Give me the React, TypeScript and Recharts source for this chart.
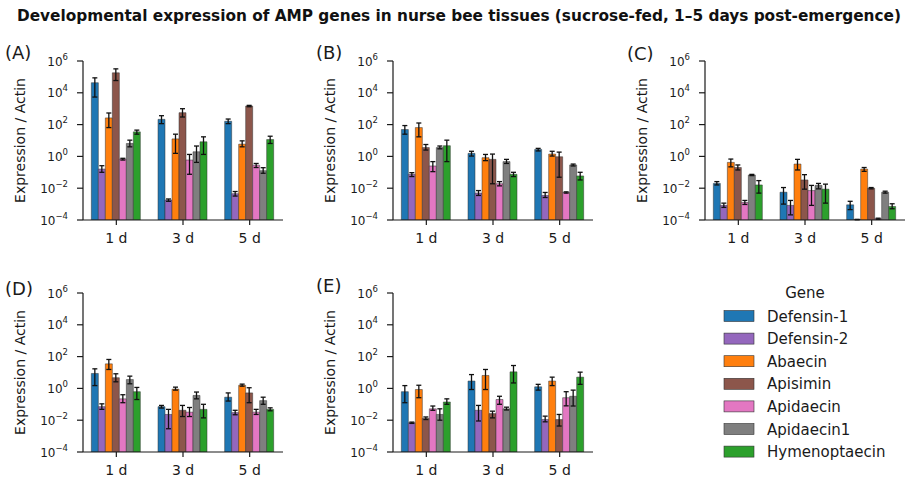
import React from 'react'
import { BarChart, Bar, XAxis, YAxis, ErrorBar, Label } from 'recharts'

const DAYS = ['1 d', '3 d', '5 d']
const GENES = ['Defensin-1', 'Defensin-2', 'Abaecin', 'Apisimin', 'Apidaecin', 'Apidaecin1', 'Hymenoptaecin']
const COLORS = ['#1f77b4', '#9467bd', '#ff7f0e', '#8c564b', '#e377c2', '#7f7f7f', '#2ca02c']
const Y_TICKS = [1e-4, 1e-2, 1, 1e2, 1e4, 1e6]

// rows = genes (order of GENES), columns = days; mean, lower and upper end of error bar
const meanA = [
  [4.3e4, 214, 162],
  [0.16, 1.8e-3, 4.5e-3],
  [263, 12.6, 5.9],
  [1.8e5, 560, 1480],
  [0.68, 0.59, 0.28],
  [6.5, 1.95, 0.126],
  [35, 8.3, 11.5],
]
const lowA = [
  [5.4e3, 115, 115],
  [0.1, 1.5e-3, 3.2e-3],
  [65, 1.55, 4.0],
  [5.9e4, 300, 1330],
  [0.59, 0.075, 0.2],
  [4.0, 0.42, 0.087],
  [25, 1.33, 6.5],
]
const highA = [
  [8.7e4, 363, 224],
  [0.26, 2.1e-3, 6.2e-3],
  [537, 25, 9.5],
  [3.2e5, 1000, 1620],
  [0.76, 1.33, 0.36],
  [10.5, 4.5, 0.195],
  [45, 17, 18.6],
]

const meanB = [
  [49, 1.55, 2.75],
  [0.075, 4.9e-3, 3.5e-3],
  [65, 0.83, 1.4],
  [3.6, 0.65, 0.95],
  [0.25, 0.019, 5.4e-3],
  [3.6, 0.47, 0.29],
  [4.7, 0.075, 0.059],
]
const lowB = [
  [25, 1.05, 2.2],
  [0.054, 3.5e-3, 2.6e-3],
  [17, 0.54, 1.05],
  [2.5, 0.019, 0.049],
  [0.11, 0.014, 4.9e-3],
  [3.0, 0.36, 0.25],
  [0.47, 0.054, 0.033],
]
const highB = [
  [87, 2.1, 3.2],
  [0.095, 7.1e-3, 5.4e-3],
  [126, 1.33, 2.1],
  [5.6, 1.4, 1.86],
  [0.47, 0.026, 5.9e-3],
  [4.5, 0.65, 0.33],
  [10.5, 0.1, 0.1],
]

const meanC = [
  [0.02, 5.6e-3, 9e-4],
  [8.3e-4, 8.3e-4, 1.07e-4],
  [0.42, 0.33, 0.16],
  [0.2, 0.033, 0.01],
  [1.26e-3, 7.1e-3, 1.2e-4],
  [0.068, 0.015, 5.6e-3],
  [0.016, 8.7e-3, 7.1e-4],
]
const lowC = [
  [0.016, 1e-3, 4.5e-4],
  [6.2e-4, 2.1e-4, 1.03e-4],
  [0.22, 0.14, 0.115],
  [0.14, 8.7e-3, 9.1e-3],
  [9.5e-4, 8.3e-4, 1.1e-4],
  [0.062, 9.1e-3, 4.9e-3],
  [4.9e-3, 1.15e-3, 5.1e-4],
]
const highC = [
  [0.026, 0.011, 1.5e-3],
  [1.15e-3, 1.7e-3, 1.1e-4],
  [0.68, 0.65, 0.2],
  [0.29, 0.071, 0.011],
  [1.7e-3, 0.015, 1.3e-4],
  [0.074, 0.02, 6.5e-3],
  [0.03, 0.018, 1.05e-3],
]

const meanD = [
  [8.7, 0.071, 0.28],
  [0.071, 0.023, 0.03],
  [35, 0.9, 1.58],
  [4.7, 0.042, 0.52],
  [0.22, 0.032, 0.032],
  [3.6, 0.36, 0.17],
  [0.62, 0.048, 0.048],
]
const lowD = [
  [1.5, 0.058, 0.16],
  [0.048, 2.9e-3, 0.022],
  [15.5, 0.78, 1.38],
  [2.6, 0.017, 0.126],
  [0.126, 0.017, 0.023],
  [1.95, 0.22, 0.1],
  [0.2, 0.014, 0.039],
]
const highD = [
  [17, 0.085, 0.52],
  [0.107, 0.048, 0.042],
  [66, 1.2, 1.86],
  [8.3, 0.085, 1.1],
  [0.4, 0.063, 0.048],
  [5.9, 0.59, 0.28],
  [1.15, 0.1, 0.06],
]

const meanE = [
  [0.62, 2.9, 1.26],
  [6.9e-3, 0.042, 0.011],
  [0.85, 6.5, 2.9],
  [0.013, 0.026, 0.011],
  [0.052, 0.2, 0.26],
  [0.023, 0.052, 0.32],
  [0.14, 11, 5.1],
]
const lowE = [
  [0.126, 0.85, 0.78],
  [6.3e-3, 8.9e-3, 7.9e-3],
  [0.26, 0.85, 1.5],
  [0.011, 0.014, 4.3e-3],
  [0.042, 0.1, 0.08],
  [0.01, 0.044, 0.078],
  [0.1, 2.2, 1.8],
]
const highE = [
  [1.5, 7.4, 1.8],
  [7.6e-3, 0.085, 0.018],
  [1.58, 15.5, 5.1],
  [0.016, 0.037, 0.023],
  [0.078, 0.32, 0.62],
  [0.052, 0.066, 0.78],
  [0.22, 27.5, 10.5],
]

const TEXT = '#1a1a1a'

function buildRows(mean: number[][], low: number[][], high: number[][]) {
  return DAYS.map((day, d) => {
    const row: any = { day }
    GENES.forEach((g, i) => {
      row[g] = mean[i][d]
      row[g + '_err'] = [mean[i][d] - low[i][d], high[i][d] - mean[i][d]]
    })
    return row
  })
}

const LogTick = ({ x, y, payload }: any) => {
  const exp = Math.round(Math.log10(payload.value))
  return (
    <text x={x} y={y} dy={4.5} textAnchor="end" fontSize={12} fill={TEXT}>
      <tspan>10</tspan>
      <tspan dy={-6} fontSize={8.5}>{exp < 0 ? '\u2212' + -exp : String(exp)}</tspan>
    </text>
  )
}

function Panel({ data, left, top }: { data: any[]; left: number; top: number }) {
  return (
    <div style={{ position: 'absolute', left, top }}>
      <BarChart
        width={300}
        height={230}
        data={data}
        margin={{ top: 21, right: 17, bottom: 20, left: 13 }}
        barCategoryGap="12.5%"
        barGap={0}
      >
        <XAxis
          dataKey="day"
          height={30}
          tickSize={5}
          tickMargin={8}
          tick={{ fontSize: 14, fill: TEXT }}
          stroke={TEXT}
          strokeWidth={1.2}
        />
        <YAxis
          type="number"
          scale="log"
          domain={[1e-4, 1e6]}
          allowDataOverflow
          ticks={Y_TICKS}
          width={70}
          tickSize={6}
          tickMargin={9}
          tick={<LogTick />}
          stroke={TEXT}
          strokeWidth={1.2}
        >
          <Label
            value="Expression / Actin"
            angle={-90}
            position="insideLeft"
            offset={7}
            style={{ textAnchor: 'middle', fontSize: 14, fill: TEXT }}
          />
        </YAxis>
        {GENES.map((g, i) => (
          <Bar key={g} dataKey={g} fill={COLORS[i]} stroke="#333" strokeWidth={0.5} isAnimationActive={false}>
            <ErrorBar dataKey={g + '_err'} direction="y" width={2.5} stroke="#111" strokeWidth={1.3} />
          </Bar>
        ))}
      </BarChart>
    </div>
  )
}

const PANEL_LABELS = [
  { t: '(A)', x: 5, y: 59 },
  { t: '(B)', x: 316, y: 59 },
  { t: '(C)', x: 627, y: 60 },
  { t: '(D)', x: 5, y: 295 },
  { t: '(E)', x: 316, y: 292 },
]

export default function App() {
  const rowsA = buildRows(meanA, lowA, highA)
  const rowsB = buildRows(meanB, lowB, highB)
  const rowsC = buildRows(meanC, lowC, highC)
  const rowsD = buildRows(meanD, lowD, highD)
  const rowsE = buildRows(meanE, lowE, highE)

  return (
    <div
      style={{
        position: 'absolute',
        left: 0,
        top: 0,
        width: 913,
        height: 484,
        overflow: 'hidden',
        background: '#fff',
        fontFamily: "'DejaVu Sans', sans-serif",
      }}
    >
      <Panel data={rowsA} left={0} top={40} />
      <Panel data={rowsB} left={310} top={40} />
      <Panel data={rowsC} left={622} top={40} />
      <Panel data={rowsD} left={0} top={272} />
      <Panel data={rowsE} left={310} top={272} />

      <svg width={913} height={484} style={{ position: 'absolute', left: 0, top: 0, pointerEvents: 'none' }}>
        <text
          x={459}
          y={21}
          textAnchor="middle"
          fontSize={16}
          fontWeight="bold"
          fill="#111"
          textLength={884}
          lengthAdjust="spacingAndGlyphs"
          fontFamily="'DejaVu Sans Condensed', 'Liberation Sans Narrow', 'DejaVu Sans', sans-serif"
        >
          Developmental expression of AMP genes in nurse bee tissues (sucrose-fed, 1–5 days post-emergence)
        </text>
        {PANEL_LABELS.map((p) => (
          <text key={p.t} x={p.x} y={p.y} fontSize={18} fill={TEXT}>
            {p.t}
          </text>
        ))}
        <text x={805} y={298} textAnchor="middle" fontSize={15} fill={TEXT}>
          Gene
        </text>
        {GENES.map((g, i) => {
          const cy = 316 + i * 22.6
          return (
            <g key={g}>
              <rect x={724} y={cy - 5.5} width={30} height={11} fill={COLORS[i]} stroke="#333" strokeWidth={0.6} />
              <text x={767} y={cy + 5.5} fontSize={15} fill={TEXT}>
                {g}
              </text>
            </g>
          )
        })}
      </svg>
    </div>
  )
}
